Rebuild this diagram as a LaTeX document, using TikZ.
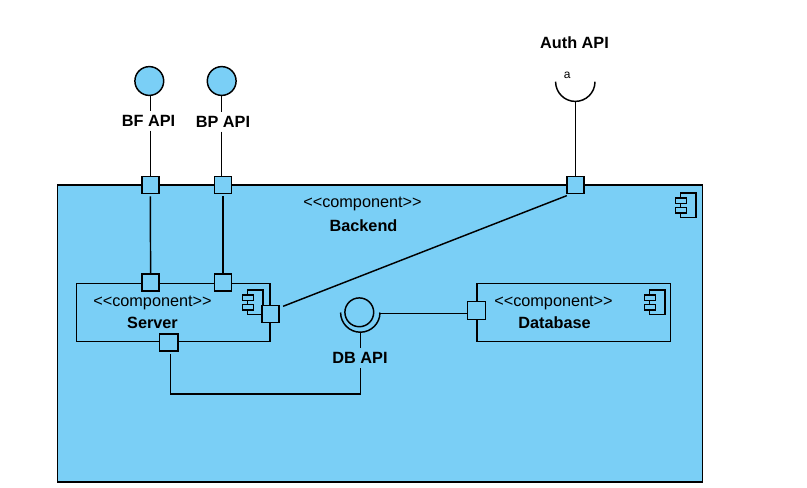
\documentclass[tikz,border=0pt]{standalone}
\usepackage{fontspec}
\setmainfont{Liberation Sans}
\definecolor{compblue}{HTML}{7ACFF6}
\tikzset{
  x=0.75pt,y=-0.75pt,
  every node/.style={inner sep=0pt,outer sep=0pt,font=\fontsize{12.2pt}{14pt}\selectfont},
  line/.style={draw=black,line width=1.1pt},
  box/.style={line,fill=compblue},
  compbox/.style={box,rectangle,anchor=north west},
  port/.style={box,rectangle,minimum width=12.75pt,minimum height=12.75pt},
  ball/.style={box,circle,minimum size=21.6pt},
  api/.style={font=\fontsize{12.2pt}{14pt}\selectfont\bfseries,minimum height=15pt},
  stereo/.style={},
  title/.style={font=\fontsize{12.2pt}{14pt}\selectfont\bfseries},
  gap/.style={shorten <=2.2pt},
  icon/.pic={
    \draw[box] (5,0) rectangle (20.5,24.5);
    \draw[box] (0,5) rectangle (11,10.7);
    \draw[box] (0,14.3) rectangle (11,20);
  }
}
\begin{document}
\begin{tikzpicture}
\useasboundingbox (0,0) rectangle (807,487);
% Backend component
\node[compbox,minimum width=483.75pt,minimum height=222.75pt] (backend) at (57.5,185) {};
\pic at (675.3,193) {icon};
\node[stereo] (backendst) at (362.5,204) {<{}<component>{}>};
\node[title] (backendtt) at (363.5,225.5) {Backend};
% Server component
\node[compbox,minimum width=145pt,minimum height=43.5pt] (server) at (76.5,283.3) {};
\pic at (242.3,290) {icon};
\node[stereo] (serverst) at (152.5,303) {<{}<component>{}>};
\node[title] (servertt) at (152.5,322.5) {Server};
% Database component
\node[compbox,minimum width=145pt,minimum height=43.5pt] (database) at (477,283.3) {};
\pic at (644.3,290) {icon};
\node[stereo] (databasest) at (553.5,303) {<{}<component>{}>};
\node[title] (databasett) at (554.5,323) {Database};
% Ports
\node[port] (bfouter) at (150.3,185) {};
\node[port] (bpouter) at (223,185) {};
\node[port] (authouter) at (575.3,185) {};
\node[port] (bfinner) at (150.6,282.4) {};
\node[port] (bpinner) at (223,282.4) {};
\node[port] (srvright) at (270.6,314) {};
\node[port,minimum width=14pt] (srvbottom) at (168.7,342.5) {};
\node[port,minimum width=13.8pt,minimum height=13.8pt] (dbport) at (476.5,310.5) {};
% Provided interfaces
\node[ball] (bfball) at (149.3,81) {};
\node[ball] (bpball) at (221.7,81) {};
\node[ball] (dbball) at (359.3,312.3) {};
% Labels
\node[api] (bflabel) at (148.5,120.5) {BF API};
\node[api] (bplabel) at (223,121.5) {BP API};
\node[api] (dblabel) at (360,357.5) {DB API};
\node[api] (authlabel) at (574.5,42.5) {Auth API};
\node[font=\fontsize{9pt}{10pt}\selectfont] (alabel) at (567.3,75) {a};
% Required interface sockets
\coordinate (authcup) at (575.3,101.4);
\draw[line] (555.6,81.7) arc[start angle=180,end angle=0,radius=19.7];
\coordinate (dbcup) at (360.3,331.9);
\coordinate (dbcupright) at (378.5,313.7);
\coordinate (dbelbow) at (360.3,394);
\draw[line] (340.6,312.5) arc[start angle=180,end angle=0,radius=19.7];
% Connectors
\draw[line] (bfball.south -| bfouter) -- (bflabel.north -| bfouter);
\draw[line] (bflabel.south -| bfouter) -- (bfouter.north);
\draw[line] (bpball.south) -- (bplabel.north -| bpball);
\draw[line] (bplabel.south -| bpball) -- (bpouter.north -| bpball);
\draw[line] (authcup) -- (authouter.north);
\draw[line,gap] (bfouter.south) -- (bfinner.north);
\draw[line,gap] (bpouter.south) -- (bpinner.north);
\draw[line] ([yshift=-1.6pt]authouter.south west) -- ([xshift=3pt,yshift=-0.6pt]srvright.north east);
\draw[line,gap] ([xshift=1.2pt]srvbottom.south) |- (dbelbow) -- (dblabel.south -| dbelbow);
\draw[line] (dblabel.north -| dbcup) -- (dbcup);
\draw[line] (dbcupright) -- (dbcupright -| dbport.west);
\end{tikzpicture}
\end{document}
